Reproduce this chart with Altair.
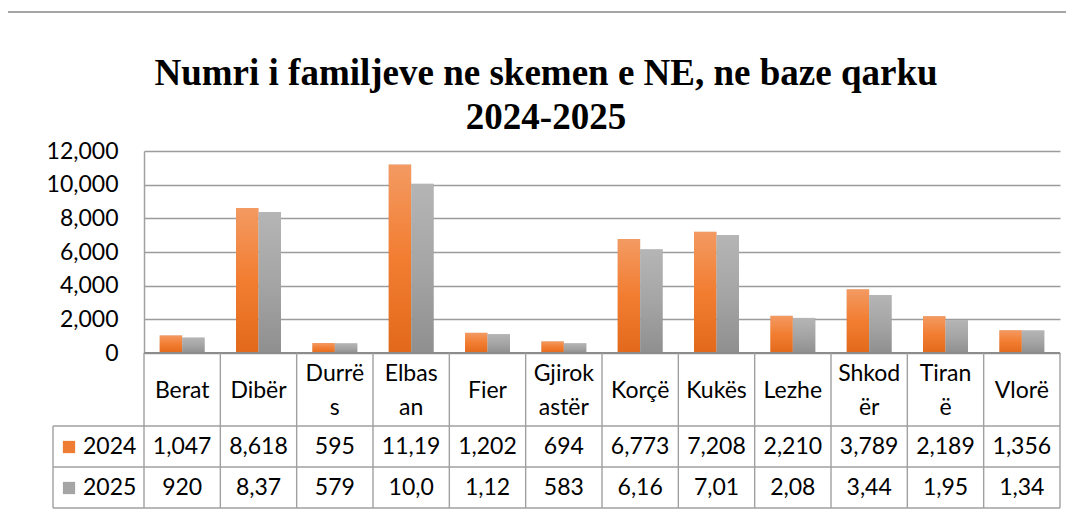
import altair as alt
import pandas as pd

# ---------------- data ----------------
categories = ["Berat", "Dibër", "Durrës", "Elbasan", "Fier", "Gjirokastër",
              "Korçë", "Kukës", "Lezhe", "Shkodër", "Tiranë", "Vlorë"]
header_line1 = ["Berat", "Dibër", "Durrë", "Elbas", "Fier", "Gjirok",
                "Korçë", "Kukës", "Lezhe", "Shkod", "Tiran", "Vlorë"]
header_line2 = ["", "", "s", "an", "", "astër", "", "", "", "ër", "ë", ""]
series = ["2024", "2025"]
values_2024 = [1047, 8618, 595, 11195, 1202, 694, 6773, 7208, 2210, 3789, 2189, 1356]
values_2025 = [920, 8375, 579, 10050, 1125, 583, 6165, 7015, 2085, 3445, 1955, 1345]
table_2024 = ["1,047", "8,618", "595", "11,19", "1,202", "694",
              "6,773", "7,208", "2,210", "3,789", "2,189", "1,356"]
table_2025 = ["920", "8,37", "579", "10,0", "1,12", "583",
              "6,16", "7,01", "2,08", "3,44", "1,95", "1,34"]
y_ticks = [0, 2000, 4000, 6000, 8000, 10000, 12000]
title_lines = ["Numri i familjeve ne skemen e NE, ne baze qarku", "2024-2025"]

# ---------------- style ----------------
W, H = 916, 202
FONT = "Lato"
FS = 23
LINE = "#a0a0a0"
orange_grad = alt.LinearGradient(
    gradient="linear", x1=0, x2=0, y1=0, y2=1,
    stops=[alt.GradientStop(color="#F39A62", offset=0),
           alt.GradientStop(color="#F27D31", offset=0.5),
           alt.GradientStop(color="#E2691B", offset=1)])
gray_grad = alt.LinearGradient(
    gradient="linear", x1=0, x2=0, y1=0, y2=1,
    stops=[alt.GradientStop(color="#B5B5B5", offset=0),
           alt.GradientStop(color="#A5A5A5", offset=0.5),
           alt.GradientStop(color="#8F8F8F", offset=1)])
legend_colors = {"2024": "#EF7C33", "2025": "#A5A5A5"}

bars_df = pd.DataFrame({
    "category": categories * 2,
    "series": ["2024"] * len(categories) + ["2025"] * len(categories),
    "value": values_2024 + values_2025,
})
head_df = pd.DataFrame({"category": categories, "l1": header_line1, "l2": header_line2})
row24_df = pd.DataFrame({"category": categories, "label": table_2024})
row25_df = pd.DataFrame({"category": categories, "label": table_2025})
cat_df = pd.DataFrame({"category": categories})

x_scale = alt.Scale(domain=categories, paddingInner=0, paddingOuter=0)
x_enc = alt.X("category:N", sort=categories, scale=x_scale, axis=None)
xoff = alt.XOffset("series:N", scale=alt.Scale(domain=series, paddingInner=0, paddingOuter=0.696))
y_scale = alt.Scale(domain=[0, 12000], nice=False, zero=True)
y_axis = alt.Axis(values=y_ticks, format=",.0f", domain=True, domainColor=LINE,
                  domainWidth=1.5, ticks=False, labelPadding=26,
                  labelFont=FONT, labelFontSize=FS, labelColor="#000",
                  grid=True, gridColor="#9c9c9c", gridWidth=1.4, title=None)
y_enc = alt.Y("value:Q", scale=y_scale, axis=y_axis)

base = alt.Chart(bars_df).encode(x=x_enc, xOffset=xoff, y=y_enc)
shadow1 = base.mark_bar(color="#000000", opacity=0.06, xOffset=5)
shadow2 = base.mark_bar(color="#000000", opacity=0.08, xOffset=2.5)
bar24 = base.transform_filter("datum.series == '2024'").mark_bar(color=orange_grad)
bar25 = base.transform_filter("datum.series == '2025'").mark_bar(color=gray_grad)

zero_line = alt.Chart(cat_df).mark_rule(color="#8c8c8c", strokeWidth=2).encode(
    y=alt.Y(datum=0, scale=y_scale, axis=y_axis))

# table grid
vlines = alt.Chart(cat_df).mark_rule(color=LINE, strokeWidth=1.4).encode(
    x=alt.X("category:N", sort=categories, scale=x_scale, axis=None, bandPosition=1),
    y=alt.value(H), y2=alt.value(H + 155))
first_vline = alt.Chart(cat_df.head(1)).mark_rule(color=LINE, strokeWidth=1.4).encode(
    x=alt.value(0), y=alt.value(H), y2=alt.value(H + 155))
left_border = alt.Chart(cat_df.head(1)).mark_rule(color=LINE, strokeWidth=1.4).encode(
    x=alt.value(-91), y=alt.value(H + 73), y2=alt.value(H + 155))
hlines = [
    alt.Chart(cat_df.head(1)).mark_rule(color=LINE, strokeWidth=1.4).encode(
        x=alt.value(-91), x2=alt.value(W), y=alt.value(H + dy))
    for dy in (73, 114, 155)
]

txt = dict(font=FONT, fontSize=FS, color="#000", baseline="middle", align="center")
head_single = alt.Chart(head_df).transform_filter("datum.l2 == ''").mark_text(**txt).encode(
    x=x_enc, text="l1:N", y=alt.value(H + 38))
head_top = alt.Chart(head_df).transform_filter("datum.l2 != ''").mark_text(**txt).encode(
    x=x_enc, text="l1:N", y=alt.value(H + 21))
head_bot = alt.Chart(head_df).transform_filter("datum.l2 != ''").mark_text(**txt).encode(
    x=x_enc, text="l2:N", y=alt.value(H + 55))
row24 = alt.Chart(row24_df).mark_text(**txt).encode(x=x_enc, text="label:N", y=alt.value(H + 94))
row25 = alt.Chart(row25_df).mark_text(**txt).encode(x=x_enc, text="label:N", y=alt.value(H + 135))

legend_layers = []
for s, yy in zip(series, (H + 94, H + 135)):
    ldf = pd.DataFrame({"series": [s]})
    legend_layers.append(
        alt.Chart(ldf).mark_square(size=150, filled=True, opacity=1,
                                   color=legend_colors[s]).encode(
            x=alt.value(-75), y=alt.value(yy)))
    legend_layers.append(
        alt.Chart(ldf).mark_text(font=FONT, fontSize=FS, color="#000",
                                 baseline="middle", align="left").encode(
            x=alt.value(-61), y=alt.value(yy), text="series:N"))

# outer chart frame
frame_v = alt.Chart(cat_df.head(1)).mark_rule(color="#a6a6a6", strokeWidth=2).encode(
    x=alt.value(-137), y=alt.value(-139), y2=alt.value(H + 160))
frame_h = alt.Chart(cat_df.head(1)).mark_rule(color="#a6a6a6", strokeWidth=2).encode(
    x=alt.value(-137), x2=alt.value(W + 10), y=alt.value(-139))

title_df1 = pd.DataFrame({"t": [title_lines[0]]})
title_df2 = pd.DataFrame({"t": [title_lines[1]]})
ttl = dict(font="Liberation Serif", fontSize=37, fontWeight="bold", color="#000",
           align="center", baseline="alphabetic")
title1 = alt.Chart(title_df1).mark_text(**ttl).encode(
    x=alt.value(402), y=alt.value(-66), text="t:N")
title2 = alt.Chart(title_df2).mark_text(**ttl).encode(
    x=alt.value(402), y=alt.value(-22), text="t:N")

chart = alt.layer(
    shadow1, shadow2, bar24, bar25, zero_line,
    vlines, first_vline, left_border, *hlines,
    head_single, head_top, head_bot, row24, row25,
    *legend_layers, frame_v, frame_h, title1, title2,
).properties(
    width=W, height=H,
    autosize=alt.AutoSizeParams(type="none"),
    padding={"left": 136, "top": 143, "right": 6, "bottom": 156},
    background="white",
).configure_view(stroke=None)

chart.save("out.html", embed_options={"renderer": "svg", "actions": False})
